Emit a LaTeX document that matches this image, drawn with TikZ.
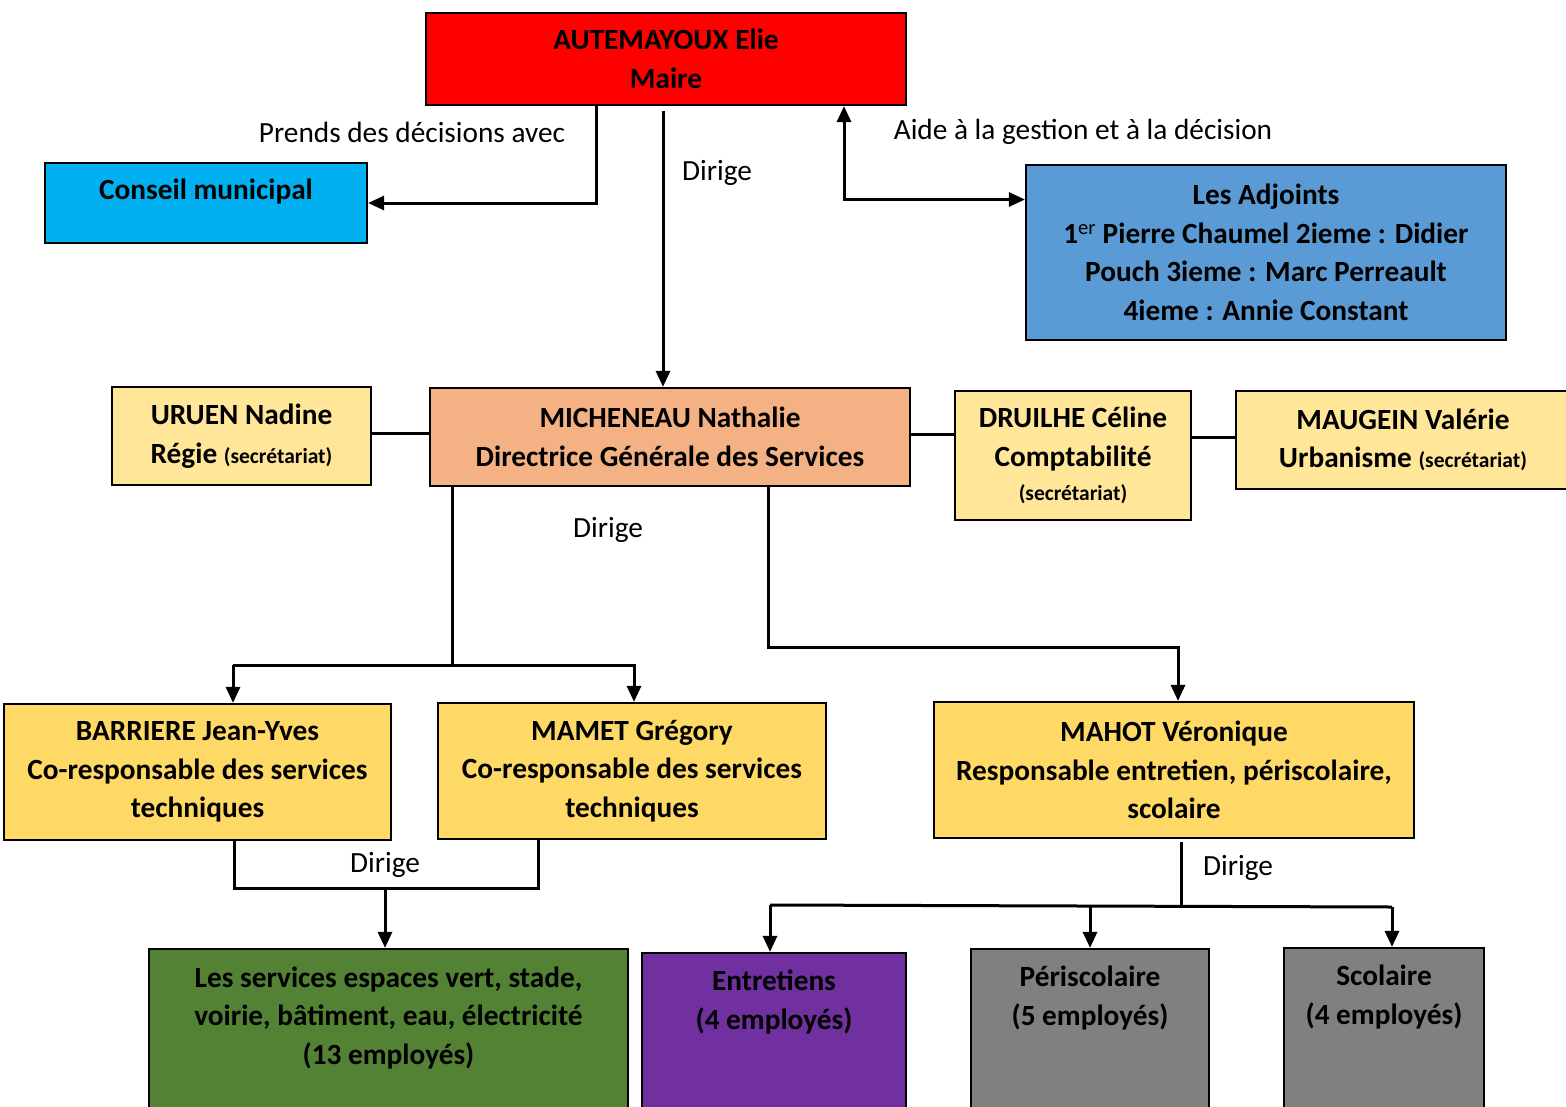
\documentclass[tikz,border=0pt]{standalone}
\usepackage{fontspec}
\setmainfont{Carlito}
\usetikzlibrary{arrows.meta}

\definecolor{cRed}{HTML}{FF0000}
\definecolor{cCyan}{HTML}{00B0F0}
\definecolor{cBlue}{HTML}{5B9BD5}
\definecolor{cPale}{HTML}{FFE699}
\definecolor{cPeach}{HTML}{F4B183}
\definecolor{cGold}{HTML}{FFD966}
\definecolor{cGreen}{HTML}{548235}
\definecolor{cPurple}{HTML}{7030A0}
\definecolor{cGrey}{HTML}{808080}

\newcommand{\secsize}{\fontsize{21.5}{27}\selectfont}

\begin{document}
\begin{tikzpicture}[x=1pt,y=-1pt,
  box/.style={draw=black, line width=2.2pt, inner sep=0pt, align=center,
    font=\bfseries\fontsize{29.3}{38.6}\selectfont},
  boxtext/.style={inner sep=0pt, align=center,
    font=\bfseries\fontsize{29.3}{38.6}\selectfont},
  lbl/.style={inner sep=0pt, font=\fontsize{29.3}{34}\selectfont},
  link/.style={draw=black, line width=3pt},
  arr/.style={link, -{Triangle[width=14pt,length=16pt]}},
  arrboth/.style={link, {Triangle[width=14pt,length=16pt]}-{Triangle[width=14pt,length=16pt]}}
]
\useasboundingbox (0,0) rectangle (1566,1106);
\clip (0,0) rectangle (1566,1106);

% --- top level ---
\node[box, fill=cRed, minimum width=480pt, minimum height=92pt] (maire) at (666,59)
  {AUTEMAYOUX Elie\\Maire};
\node[box, fill=cCyan, minimum width=322pt, minimum height=80pt] (conseil) at (206,203) {};
\node[boxtext] (conseil-t) at (206,192) {Conseil municipal};
\node[box, fill=cBlue, minimum width=480pt, minimum height=175pt] (adjoints) at (1266,252.5)
  {Les Adjoints\\1{\mdseries\textsuperscript{er}} Pierre Chaumel 2ieme : Didier\\Pouch 3ieme : Marc Perreault\\4ieme : Annie Constant};

% --- direction ---
\node[box, fill=cPale, minimum width=259pt, minimum height=98pt] (uruen) at (241.5,436)
  {URUEN Nadine\\Régie {\secsize(secrétariat)}};
\node[box, fill=cPeach, minimum width=480pt, minimum height=98pt] (dgs) at (670,437)
  {MICHENEAU Nathalie\\Directrice Générale des Services};
\node[box, fill=cPale, minimum width=236pt, minimum height=129pt] (druilhe) at (1073,455.5)
  {DRUILHE Céline\\Comptabilité\\[-4pt]{\secsize(secrétariat)}};
\node[box, fill=cPale, minimum width=334pt, minimum height=98pt] (maugein) at (1403,440)
  {MAUGEIN Valérie\\Urbanisme {\secsize(secrétariat)}};

% --- managers ---
\node[box, fill=cGold, minimum width=387pt, minimum height=136pt] (barriere) at (197.5,772)
  {BARRIERE Jean-Yves\\Co-responsable des services\\techniques};
\node[box, fill=cGold, minimum width=388pt, minimum height=136pt] (mamet) at (632,771)
  {MAMET Grégory\\Co-responsable des services\\techniques};
\node[box, fill=cGold, minimum width=480pt, minimum height=136pt] (mahot) at (1174,770)
  {MAHOT Véronique\\Responsable entretien, périscolaire,\\scolaire};

% --- services ---
\node[box, fill=cGreen, minimum width=479pt, minimum height=181pt] (green) at (388.5,1039.5) {};
\node[boxtext] (green-t) at (388.5,1018)
  {Les services espaces vert, stade,\\voirie, bâtiment, eau, électricité\\(13 employés)};
\node[box, fill=cPurple, minimum width=264pt, minimum height=177pt] (entretiens) at (774,1041.5) {};
\node[boxtext] (entretiens-t) at (774,1002) {Entretiens\\(4 employés)};
\node[box, fill=cGrey, minimum width=238pt, minimum height=181pt] (peri) at (1090,1039.5) {};
\node[boxtext] (peri-t) at (1090,998) {Périscolaire\\(5 employés)};
\node[box, fill=cGrey, minimum width=200pt, minimum height=182pt] (scolaire) at (1384,1039) {};
\node[boxtext] (scolaire-t) at (1384,997) {Scolaire\\(4 employés)};

% --- connectors from the mayor ---
\draw[arr] ([xshift=-70pt]maire.south) |- (conseil.east);
\draw[arr] ([xshift=-3pt,yshift=-5pt]maire.south) -- ([xshift=-7pt]dgs.north);
\draw[arrboth] ([xshift=178pt]maire.south) |- ([yshift=53pt]adjoints.west);

\node[lbl] (l-prends) at (412,132) {Prends des décisions avec};
\node[lbl] (l-dirige1) at (717,173) {Dirige};
\node[lbl] (l-aide) at (1083,132) {Aide à la gestion et à la décision};

% --- side links of the direction ---
\draw[link] ([yshift=3pt]uruen.east) -- ([yshift=3pt]uruen.east -| dgs.west);
\draw[link] ([yshift=3pt]dgs.east) -- ([yshift=3pt]dgs.east -| druilhe.west);
\draw[link] ([yshift=3pt]maugein.west -| druilhe.east) -- ([yshift=3pt]maugein.west);

% --- direction to managers ---
\coordinate (bj) at (233,665);
\coordinate (mj) at (634,665);
\coordinate (vj) at (1178,647);
\draw[link] ([xshift=-218pt]dgs.south) -- ([xshift=-218pt]dgs.south |- bj);
\draw[link] (bj) -- ([xshift=2pt]mj);
\draw[arr] (bj) -- (bj |- barriere.north);
\draw[arr] (mj) -- (mj |- mamet.north);
\draw[arr] ([xshift=98pt]dgs.south) |- (vj) -- (vj |- mahot.north);
\node[lbl] (l-dirige2) at (608,530) {Dirige};

% --- managers to services ---
\coordinate (gj) at (385,888);
\draw[link] ([xshift=36.5pt]barriere.south) |- ([xshift=-94pt]mamet.south |- gj) -- ([xshift=-94pt]mamet.south);
\draw[arr] (gj) -- (gj |- green.north);
\node[lbl] (l-dirige3) at (385,865) {Dirige};

\coordinate (ej) at (770,905);
\coordinate (pj) at (1090,905.5);
\coordinate (sj) at (1392,907);
\draw[link] ([xshift=7pt,yshift=-3pt]mahot.south) -- ([xshift=7pt]mahot.south |- ej);
\draw[link] (ej) -- (sj);
\draw[arr] (ej) -- (ej |- entretiens.north);
\draw[arr] (pj) -- (pj |- peri.north);
\draw[arr] (sj) -- (sj |- scolaire.north);
\node[lbl] (l-dirige4) at (1238,868) {Dirige};
\end{tikzpicture}
\end{document}
